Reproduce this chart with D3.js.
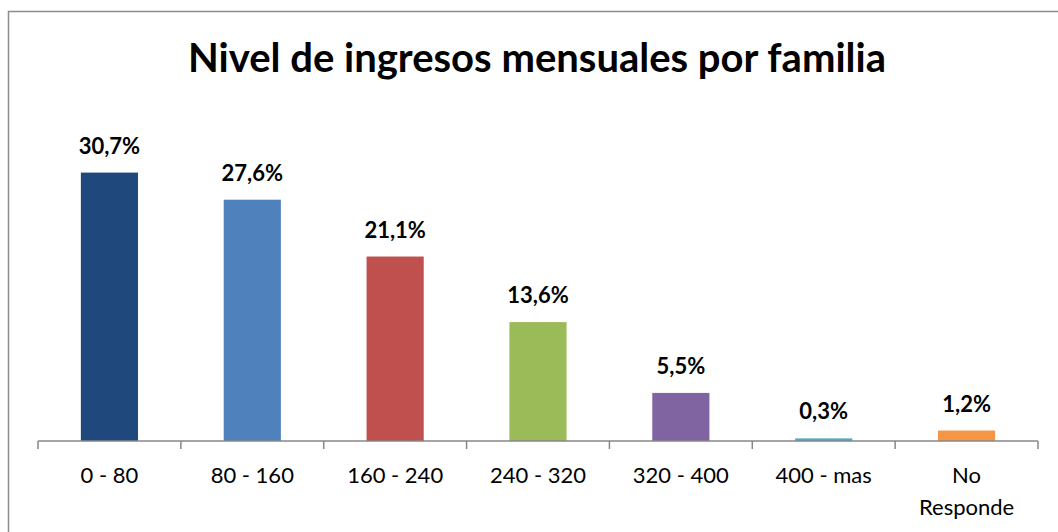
<!DOCTYPE html>
<html>
<head>
<meta charset="utf-8">
<script src="https://cdn.jsdelivr.net/npm/d3@7"></script>
<style>
  html, body { margin: 0; padding: 0; background: #fff; overflow: hidden; }
  svg { display: block; overflow: visible; font-family: Lato, "Open Sans", sans-serif; }
</style>
</head>
<body>
<svg id="chart"></svg>
<script>
// data
var categories = ["0 - 80", "80 - 160", "160 - 240", "240 - 320", "320 - 400", "400 - mas", "No Responde"];
var values = [30.7, 27.6, 21.1, 13.6, 5.5, 0.3, 1.2];
var colors = ["#1F497D", "#4F81BD", "#C0504D", "#9BBB59", "#8064A2", "#4BACC6", "#F79646"];
var title = "Nivel de ingresos mensuales por familia";

var outerWidth = 1058, outerHeight = 532;
var margins = { left: 38, right: 20, top: 135, bottom: 91 };
var innerWidth = 1000, innerHeight = 306;

var svg = d3.select("svg#chart")
    .attr("width", outerWidth)
    .attr("height", outerHeight)
    .attr("viewBox", "0 0 " + outerWidth + " " + outerHeight);

// chart border: only top and left edges are visible in the original
svg.append("path")
    .attr("d", "M8.5," + outerHeight + "V11.5H" + outerWidth)
    .attr("fill", "none")
    .attr("stroke", "#8c8c8c")
    .attr("stroke-width", 1.5);

svg.append("text")
    .attr("x", 537)
    .attr("y", 72)
    .attr("text-anchor", "middle")
    .attr("font-size", "40px")
    .attr("font-weight", "bold")
    .attr("fill", "#000")
    .text(title);

var plot = svg.append("g")
    .attr("transform", "translate(" + margins.left + "," + margins.top + ")");

var xScale = d3.scaleBand().domain(categories).range([0, innerWidth]).padding(0);
var yScale = d3.scaleLinear().domain([0, 35]).range([innerHeight, 0]);
var barW = xScale.bandwidth() * 0.4;

var data = categories.map(function(c, i) { return { cat: c, val: values[i], color: colors[i] }; });

plot.selectAll(".bar")
    .data(data)
    .enter()
    .append("rect")
    .attr("class", "bar")
    .attr("x", function(d) { return xScale(d.cat) + (xScale.bandwidth() - barW) / 2; })
    .attr("y", function(d) { return yScale(d.val); })
    .attr("width", barW)
    .attr("height", function(d) { return innerHeight - yScale(d.val); })
    .attr("fill", function(d) { return d.color; });

plot.selectAll(".lbl")
    .data(data)
    .enter()
    .append("text")
    .attr("class", "lbl")
    .attr("x", function(d) { return xScale(d.cat) + xScale.bandwidth() / 2; })
    .attr("y", function(d) { return yScale(d.val) - 19; })
    .attr("text-anchor", "middle")
    .attr("font-size", "22px")
    .attr("font-weight", "bold")
    .attr("fill", "#000")
    .text(function(d) { return d.val.toFixed(1).replace(".", ",") + "%"; });

// x axis with ticks between categories
var axis = plot.append("g").attr("transform", "translate(0," + innerHeight + ")");
axis.append("line")
    .attr("x1", 0).attr("x2", innerWidth)
    .attr("stroke", "#878787").attr("stroke-width", 1.5);
axis.selectAll(".tick")
    .data(d3.range(categories.length + 1))
    .enter()
    .append("line")
    .attr("x1", function(i) { return i * xScale.step(); })
    .attr("x2", function(i) { return i * xScale.step(); })
    .attr("y1", 0).attr("y2", 8)
    .attr("stroke", "#878787").attr("stroke-width", 1.5);

axis.selectAll(".cat")
    .data(categories)
    .enter()
    .append("text")
    .attr("class", "cat")
    .attr("text-anchor", "middle")
    .attr("font-size", "22px")
    .attr("fill", "#000")
    .each(function(c) {
        var t = d3.select(this);
        var words = c === "No Responde" ? ["No", "Responde"] : [c];
        words.forEach(function(w, k) {
            t.append("tspan")
                .attr("x", xScale(c) + xScale.bandwidth() / 2)
                .attr("y", 42 + k * 32)
                .text(w);
        });
    });
</script>
</body>
</html>
